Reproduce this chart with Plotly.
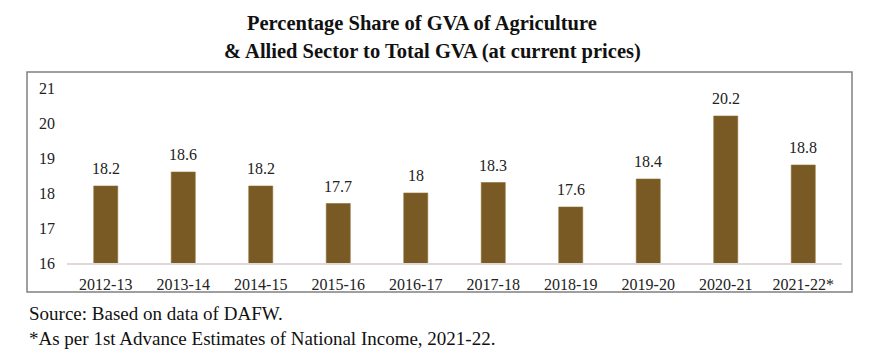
import plotly.graph_objects as go

categories = ["2012-13", "2013-14", "2014-15", "2015-16", "2016-17",
              "2017-18", "2018-19", "2019-20", "2020-21", "2021-22*"]
values = [18.2, 18.6, 18.2, 17.7, 18.0, 18.3, 17.6, 18.4, 20.2, 18.8]
value_labels = ["18.2", "18.6", "18.2", "17.7", "18", "18.3", "17.6", "18.4", "20.2", "18.8"]
y_ticks = [16, 17, 18, 19, 20, 21]

FONT = "Liberation Serif, Times New Roman, serif"
BAR = "#7a5a24"

fig = go.Figure()
fig.add_trace(go.Bar(
    x=categories, y=values, width=0.31,
    marker=dict(color=BAR, line=dict(color="#8c6c30", width=0.6)),
    hoverinfo="x+y",
))

for c, v, t in zip(categories, values, value_labels):
    fig.add_annotation(x=c, y=v, text=t, showarrow=False, yanchor="bottom",
                       yshift=7, font=dict(family=FONT, size=16, color="#222"))

fig.update_layout(
    width=882, height=350,
    margin=dict(l=59, r=48, t=80, b=95),
    paper_bgcolor="white", plot_bgcolor="white",
    showlegend=False,
    xaxis=dict(
        showgrid=False, zeroline=False, showline=True, linecolor="#e0d8d8", linewidth=1.5,
        tickfont=dict(family=FONT, size=16, color="#222"), ticks="", ticklabelstandoff=6,
        range=[-0.5, 9.5],
    ),
    yaxis=dict(
        range=[16, 21], tickvals=y_ticks, showgrid=False, zeroline=False, showline=False,
        tickfont=dict(family=FONT, size=16, color="#222"), ticks="", ticklabelstandoff=11,
    ),
)

# title (two centred lines)
fig.add_annotation(xref="paper", yref="paper", x=0.458, y=1.366, xanchor="center", yanchor="middle",
                   text="<b>Percentage Share of GVA of Agriculture</b>", showarrow=False,
                   font=dict(family=FONT, size=20.5, color="#111"))
fig.add_annotation(xref="paper", yref="paper", x=0.472, y=1.206, xanchor="center", yanchor="middle",
                   text="<b>&amp; Allied Sector to Total GVA (at current prices)</b>", showarrow=False,
                   font=dict(family=FONT, size=20.5, color="#111"))

# border box around plot
fig.add_shape(type="rect", xref="paper", yref="paper",
              x0=-0.0516, x1=1.0129, y0=-0.1657, y1=1.0914,
              line=dict(color="#808080", width=1.5), fillcolor="rgba(0,0,0,0)")

fig.add_annotation(xref="paper", yref="paper", x=-0.0516, y=-0.286, xanchor="left", yanchor="middle",
                   text="Source: Based on data of DAFW.", showarrow=False, align="left",
                   font=dict(family=FONT, size=19, color="#111"))
fig.add_annotation(xref="paper", yref="paper", x=-0.0516, y=-0.429, xanchor="left", yanchor="middle",
                   text="*As per 1st Advance Estimates of National Income, 2021-22.", showarrow=False,
                   align="left", font=dict(family=FONT, size=19, color="#111"))

fig.write_html("out.html")
